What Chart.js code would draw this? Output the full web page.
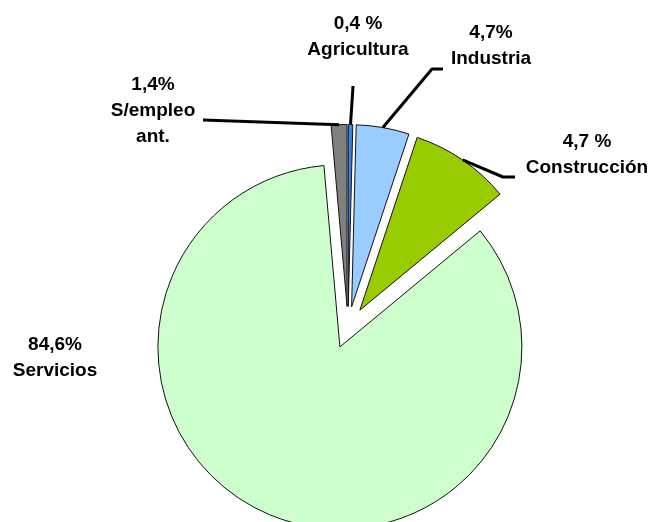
<!DOCTYPE html>
<html>
<head>
<meta charset="utf-8">
<script src="https://cdn.jsdelivr.net/npm/chart.js@4/dist/chart.umd.min.js"></script>
<style>
  html, body { margin: 0; padding: 0; background: #fff; }
  #wrap { width: 658px; height: 522px; }
</style>
</head>
<body>
<div id="wrap"><canvas id="pieChart"></canvas></div>
<script>
// data
const categories = ['Agricultura', 'Industria', 'Construcción', 'Servicios', 'S/empleo ant.'];
const shares = [0.4, 4.7, 8.9, 84.6, 1.4];
const shareLabels = ['0,4 %', '4,7%', '4,7 %', '84,6%', '1,4%'];
const sliceColors = ['#3385E6', '#99CCFF', '#99CC00', '#CCFFCC', '#808080'];

// where each callout text sits and how its leader line bends
const callouts = [
    { x: 358, y: 24, line: [[353, 86]] },
    { x: 491, y: 33, line: [[432, 69], [443, 69]] },
    { x: 587, y: 142, line: [[503, 177], [515, 177]] },
    { x: 55, y: 345, line: [] },
    { x: 153, y: 85, line: [[203, 120]], wrap: true }
];
const explodeGap = 21;
const lineStep = 26;

// push every slice out along its middle angle
const explode = {
    id: 'explode',
    beforeDatasetsDraw(chart) {
        const area = chart.chartArea;
        const cx = (area.left + area.right) / 2;
        const cy = (area.top + area.bottom) / 2;
        chart.getDatasetMeta(0).data.forEach(arc => {
            const mid = (arc.startAngle + arc.endAngle) / 2;
            arc.x = cx + Math.cos(mid) * explodeGap;
            arc.y = cy + Math.sin(mid) * explodeGap;
        });
    }
};

const calloutLabels = {
    id: 'calloutLabels',
    afterDatasetsDraw(chart) {
        const ctx = chart.ctx;
        const arcs = chart.getDatasetMeta(0).data;
        ctx.save();
        ctx.strokeStyle = '#000';
        ctx.lineWidth = 3;
        ctx.lineJoin = 'round';
        arcs.forEach((arc, i) => {
            const c = callouts[i];
            if (!c.line.length) return;
            const mid = (arc.startAngle + arc.endAngle) / 2;
            ctx.beginPath();
            ctx.moveTo(arc.x + Math.cos(mid) * arc.outerRadius, arc.y + Math.sin(mid) * arc.outerRadius);
            c.line.forEach(p => ctx.lineTo(p[0], p[1]));
            ctx.stroke();
        });
        ctx.fillStyle = '#000';
        ctx.font = 'bold 19px "Liberation Sans", Arial, sans-serif';
        ctx.textAlign = 'center';
        ctx.textBaseline = 'middle';
        categories.forEach((name, i) => {
            const c = callouts[i];
            const lines = [shareLabels[i]].concat(c.wrap ? name.split(' ') : [name]);
            lines.forEach((t, k) => ctx.fillText(t, c.x, c.y + k * lineStep));
        });
        ctx.restore();
    }
};

new Chart(document.getElementById('pieChart'), {
    type: 'pie',
    data: {
        labels: categories,
        datasets: [{
            data: shares,
            backgroundColor: sliceColors,
            borderColor: '#111',
            borderWidth: 1,
            clip: false
        }]
    },
    options: {
        responsive: true,
        maintainAspectRatio: false,
        animation: false,
        radius: 182,
        rotation: 0,
        layout: { padding: { left: 38, right: 0, top: 133, bottom: 0 } },
        plugins: {
            legend: { display: false },
            tooltip: { enabled: false }
        }
    },
    plugins: [explode, calloutLabels]
});
</script>
</body>
</html>
